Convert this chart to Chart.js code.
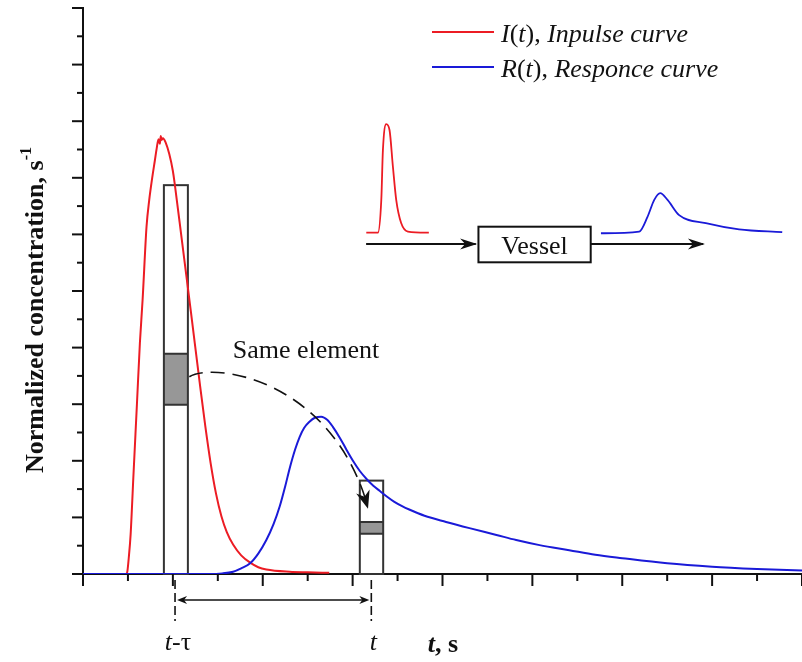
<!DOCTYPE html>
<html>
<head>
<meta charset="utf-8">
<script src="https://cdn.jsdelivr.net/npm/chart.js@4.4.0/dist/chart.umd.min.js"></script>
<style>
  html, body { margin: 0; padding: 0; background: #fff; }
</style>
</head>
<body>
<canvas id="chart" width="802" height="662"></canvas>
<script>
// I(t), inpulse curve
const inpulseT = [0, 0.47, 0.49, 0.51, 0.53, 0.56, 0.60, 0.633, 0.663, 0.707, 0.737, 0.77, 0.80, 0.82, 0.84, 0.855, 0.865, 0.875, 0.89, 0.92, 0.96, 1.0, 1.02, 1.1, 1.2, 1.3, 1.36, 1.42, 1.48, 1.54, 1.60, 1.67, 1.76, 1.86, 1.95, 2.04, 2.3, 2.5, 2.74];
const inpulse = [0, 0, 0.02, 0.3, 0.7, 1.7, 3.0, 4.08, 4.84, 6.14, 6.61, 7.0, 7.31, 7.52, 7.68, 7.6, 7.74, 7.67, 7.7, 7.62, 7.42, 7.12, 6.9, 5.9, 4.64, 3.36, 2.62, 1.96, 1.42, 1.02, 0.74, 0.52, 0.33, 0.2, 0.12, 0.08, 0.04, 0.03, 0.02];

// R(t), responce curve
const responceT = [0, 1.4, 1.55, 1.67, 1.76, 1.86, 1.95, 2.04, 2.12, 2.19, 2.25, 2.3, 2.36, 2.41, 2.46, 2.52, 2.58, 2.65, 2.72, 2.78, 2.86, 2.93, 3.0, 3.08, 3.16, 3.23, 3.3, 3.38, 3.46, 3.55, 3.63, 3.8, 4.04, 4.3, 4.6, 4.82, 5.08, 5.41, 5.7, 6.0, 6.5, 7.0, 7.5, 8.0];
const responce = [0, 0, 0.01, 0.04, 0.1, 0.19, 0.36, 0.6, 0.88, 1.2, 1.55, 1.87, 2.2, 2.42, 2.58, 2.69, 2.76, 2.78, 2.72, 2.6, 2.4, 2.2, 2.01, 1.82, 1.67, 1.56, 1.47, 1.37, 1.28, 1.2, 1.14, 1.03, 0.92, 0.81, 0.69, 0.6, 0.51, 0.42, 0.34, 0.28, 0.19, 0.13, 0.09, 0.06];

// small curves of the vessel sketch, in the same axis units
const sketchInT = [3.152, 3.281, 3.319, 3.337, 3.374, 3.411, 3.448, 3.485, 3.54, 3.615, 3.848];
const sketchIn = [6.03, 6.03, 6.61, 7.49, 7.95, 7.84, 7.2, 6.61, 6.2, 6.05, 6.03];
const sketchOutT = [5.763, 6.189, 6.281, 6.356, 6.422, 6.504, 6.633, 6.93, 7.3, 7.78];
const sketchOut = [6.02, 6.05, 6.31, 6.61, 6.73, 6.61, 6.34, 6.2, 6.09, 6.04];

const tMinusTau = 1.024;
const tNow = 3.208;

const RED = '#ec1c24';
const BLUE = '#1a1ad8';
const INK = '#111';

function pts(xs, ys) {
  return xs.map((x, i) => ({ x: x, y: ys[i] }));
}

function arrowHead(ctx, x, y, ang, len, half) { // notched arrow, tip at x,y
  const c = Math.cos(ang), s = Math.sin(ang);
  ctx.beginPath();
  ctx.moveTo(x, y);
  ctx.lineTo(x - len * c - half * s, y - len * s + half * c);
  ctx.lineTo(x - len * 0.7 * c, y - len * 0.7 * s);
  ctx.lineTo(x - len * c + half * s, y - len * s - half * c);
  ctx.closePath();
  ctx.fill();
}

function runs(ctx, parts, x, y, align) { // mixed italic / upright text
  let w = 0;
  parts.forEach(p => { ctx.font = p[1]; w += ctx.measureText(p[0]).width; });
  let cx = align === 'center' ? x - w / 2 : x;
  ctx.textAlign = 'left';
  parts.forEach(p => {
    ctx.font = p[1];
    ctx.fillText(p[0], cx, y + (p[2] || 0));
    cx += ctx.measureText(p[0]).width;
  });
}

const serif = 'Liberation Serif, Times New Roman, serif';
const F = '26px ' + serif;
const FI = 'italic 26px ' + serif;

const extras = {
  id: 'extras',
  beforeDatasetsDraw(chart) {
    const ctx = chart.ctx, sx = chart.scales.x, sy = chart.scales.y;
    const X = v => sx.getPixelForValue(v), Y = v => sy.getPixelForValue(v);
    ctx.save();
    // element boxes
    [[0.9, 1.167, 6.87, 2.99, 3.89], [3.08, 3.34, 1.65, 0.71, 0.92]].forEach(b => {
      ctx.fillStyle = '#979797';
      ctx.fillRect(X(b[0]), Y(b[4]), X(b[1]) - X(b[0]), Y(b[3]) - Y(b[4]));
      ctx.strokeStyle = '#333';
      ctx.lineWidth = 2;
      ctx.strokeRect(X(b[0]), Y(b[2]), X(b[1]) - X(b[0]), Y(0) - Y(b[2]));
      ctx.beginPath();
      ctx.moveTo(X(b[0]), Y(b[3])); ctx.lineTo(X(b[1]), Y(b[3]));
      ctx.moveTo(X(b[0]), Y(b[4])); ctx.lineTo(X(b[1]), Y(b[4]));
      ctx.stroke();
    });
    ctx.restore();
  },
  afterDraw(chart) {
    const ctx = chart.ctx, sx = chart.scales.x, sy = chart.scales.y;
    const X = v => sx.getPixelForValue(v), Y = v => sy.getPixelForValue(v);
    const a = chart.chartArea;
    ctx.save();
    ctx.strokeStyle = INK;
    ctx.fillStyle = INK;
    ctx.lineWidth = 2;

    // ticks, major and minor
    sy.ticks.forEach(t => {
      const len = Number.isInteger(t.value) ? 11 : 6;
      const py = Y(t.value);
      ctx.beginPath(); ctx.moveTo(a.left, py); ctx.lineTo(a.left - len, py); ctx.stroke();
    });
    sx.ticks.forEach(t => {
      const len = Number.isInteger(t.value) ? 12 : 7;
      const px = X(t.value);
      ctx.beginPath(); ctx.moveTo(px, a.bottom); ctx.lineTo(px, a.bottom + len); ctx.stroke();
    });

    // legend
    ctx.lineWidth = 2;
    ctx.strokeStyle = RED;
    ctx.beginPath(); ctx.moveTo(432, 32); ctx.lineTo(494, 32); ctx.stroke();
    ctx.strokeStyle = BLUE;
    ctx.beginPath(); ctx.moveTo(432, 67); ctx.lineTo(494, 67); ctx.stroke();
    ctx.textBaseline = 'alphabetic';
    runs(ctx, [['I', FI], ['(', F], ['t', FI], ['), ', F], ['Inpulse curve', FI]], 501, 42);
    runs(ctx, [['R', FI], ['(', F], ['t', FI], ['), ', F], ['Responce curve', FI]], 501, 77);

    // vessel sketch
    ctx.strokeStyle = INK;
    ctx.lineWidth = 2;
    const ay = Y(5.83);
    ctx.beginPath(); ctx.moveTo(X(3.15), ay); ctx.lineTo(X(4.37), ay); ctx.stroke();
    arrowHead(ctx, X(4.385), ay, 0, 17, 5.5);
    ctx.strokeRect(X(4.4), Y(6.136), X(5.649) - X(4.4), Y(5.507) - Y(6.136));
    ctx.beginPath(); ctx.moveTo(X(5.649), ay); ctx.lineTo(X(6.9), ay); ctx.stroke();
    arrowHead(ctx, X(6.92), ay, 0, 17, 5.5);
    runs(ctx, [['Vessel', F]], (X(4.4) + X(5.649)) / 2, ay + 10, 'center');

    // "same element" path
    ctx.lineWidth = 1.6;
    ctx.setLineDash([14, 8]);
    const p0 = [X(1.183), Y(3.486)], c1 = [X(1.47), Y(3.75)], c2 = [X(2.75), Y(3.43)], p1 = [X(3.16), Y(1.24)];
    ctx.beginPath();
    ctx.moveTo(p0[0], p0[1]);
    ctx.bezierCurveTo(c1[0], c1[1], c2[0], c2[1], p1[0], p1[1]);
    ctx.stroke();
    ctx.setLineDash([]);
    arrowHead(ctx, p1[0] + 1, p1[1] + 5, Math.atan2(p1[1] - c2[1], p1[0] - c2[0]), 18, 7);
    runs(ctx, [['Same element', F]], 306, 358, 'center');

    // t - tau interval under the axis
    ctx.lineWidth = 1.6;
    ctx.setLineDash([9, 4]);
    [tMinusTau, tNow].forEach(v => {
      ctx.beginPath(); ctx.moveTo(X(v), a.bottom + 6); ctx.lineTo(X(v), a.bottom + 47); ctx.stroke();
    });
    ctx.setLineDash([]);
    const hy = a.bottom + 26;
    ctx.beginPath(); ctx.moveTo(X(tMinusTau) + 6, hy); ctx.lineTo(X(tNow) - 6, hy); ctx.stroke();
    arrowHead(ctx, X(tMinusTau) + 2, hy, Math.PI, 10, 4);
    arrowHead(ctx, X(tNow) - 2, hy, 0, 10, 4);
    runs(ctx, [['t', FI], ['-\u03c4', F]], X(tMinusTau) + 3, 650, 'center');
    runs(ctx, [['t', FI]], X(tNow) + 2, 650, 'center');

    // axis titles
    runs(ctx, [['t', 'bold italic 26px ' + serif], [', s', 'bold 26px ' + serif]], 443, 652, 'center');
    ctx.translate(43, 310);
    ctx.rotate(-Math.PI / 2);
    runs(ctx, [['Normalized concentration, s', 'bold 26px ' + serif], ['-1', 'bold 16px ' + serif, -12]], 0, 0, 'center');
    ctx.restore();
  }
};

const line = (data, color, w) => ({
  data: data, borderColor: color, borderWidth: w, showLine: true,
  pointRadius: 0, cubicInterpolationMode: 'monotone', fill: false
});

new Chart(document.getElementById('chart'), {
  type: 'scatter',
  data: {
    datasets: [
      line(pts(responceT, responce), BLUE, 2),
      line(pts(inpulseT, inpulse), RED, 2),
      line(pts(sketchOutT, sketchOut), BLUE, 1.8),
      line(pts(sketchInT, sketchIn), RED, 1.8)
    ]
  },
  options: {
    responsive: false,
    animation: false,
    layout: { padding: { top: 8, right: 0, left: 0, bottom: 0 } },
    plugins: { legend: { display: false }, tooltip: { enabled: false } },
    scales: {
      x: {
        type: 'linear', min: 0, max: 8,
        ticks: { stepSize: 0.5, display: false },
        grid: { display: false },
        border: { display: true, color: INK, width: 2 },
        afterFit: s => { s.height = 88; }
      },
      y: {
        min: 0, max: 10,
        ticks: { stepSize: 0.5, display: false },
        grid: { display: false },
        border: { display: true, color: INK, width: 2 },
        afterFit: s => { s.width = 83; }
      }
    }
  },
  plugins: [extras]
});
</script>
</body>
</html>
